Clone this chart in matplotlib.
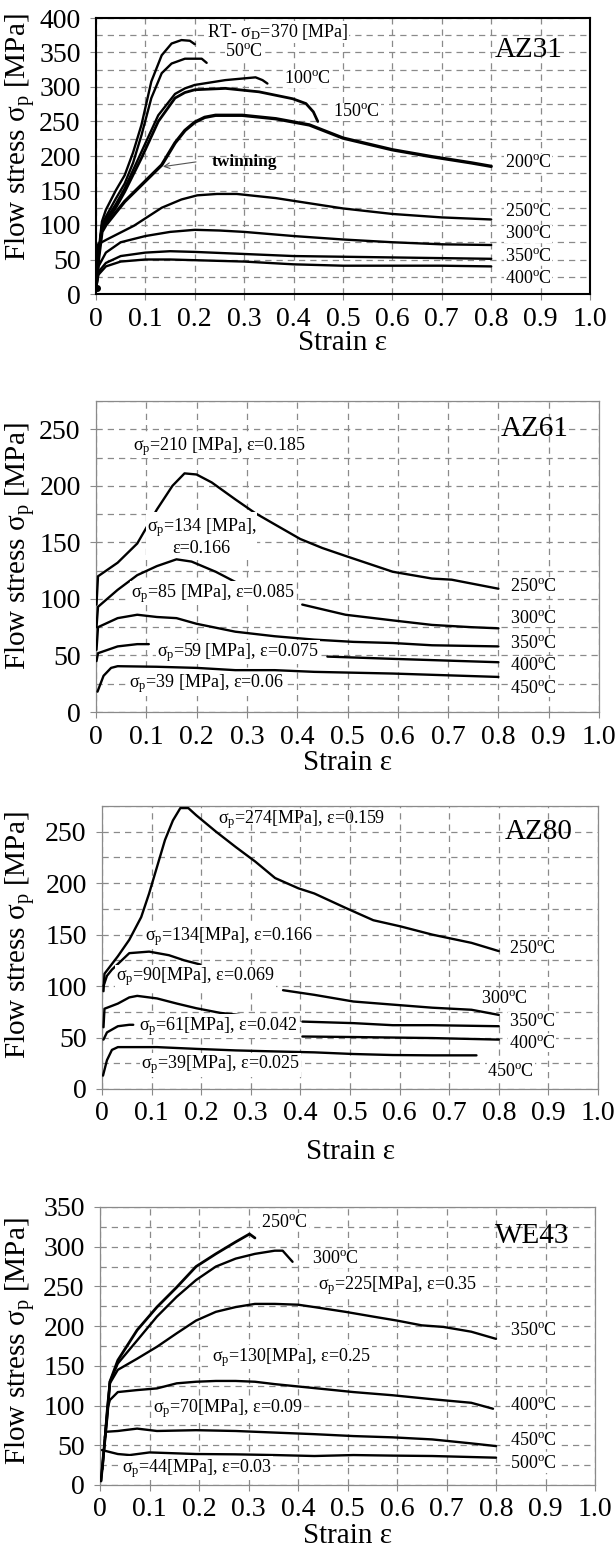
import numpy as np
import matplotlib
matplotlib.use("Agg")
import matplotlib.pyplot as plt
from matplotlib.ticker import MultipleLocator

plt.rcParams['font.family'] = ['Liberation Serif', 'DejaVu Serif']
plt.rcParams['mathtext.fontset'] = 'custom'
plt.rcParams['mathtext.rm'] = 'Liberation Serif'
plt.rcParams['mathtext.it'] = 'Liberation Serif:italic'
plt.rcParams['mathtext.bf'] = 'Liberation Serif:bold'

nan = np.nan

# ---------------- AZ31 ----------------
az31_rt_x = [0, 0.005, 0.012, 0.02, 0.04, 0.058, 0.075, 0.092, 0.112, 0.133, 0.153, 0.173, 0.19, 0.2]
az31_rt_y = [8, 60, 105, 122, 150, 172, 205, 245, 308, 346, 363, 368, 367, 362]
az31_50_x = [0, 0.005, 0.012, 0.02, 0.04, 0.058, 0.075, 0.092, 0.112, 0.133, 0.153, 0.18, 0.214, 0.224]
az31_50_y = [8, 55, 100, 112, 138, 160, 190, 230, 284, 320, 334, 341, 341, 335]
az31_100_x = [0, 0.005, 0.012, 0.02, 0.04, 0.058, 0.092, 0.126, 0.16, 0.18, 0.2, 0.262, 0.323, 0.337, 0.347]
az31_100_y = [8, 55, 98, 108, 130, 153, 206, 259, 290, 298, 303, 310, 314, 310, 305]
az31_150_x = [0, 0.005, 0.012, 0.02, 0.04, 0.058, 0.092, 0.126, 0.16, 0.18, 0.2, 0.262, 0.33, 0.398, 0.425, 0.44, 0.449]
az31_150_y = [8, 55, 95, 104, 125, 148, 197, 250, 284, 292, 296, 298, 293, 283, 276, 264, 250]
az31_200_x = [0, 0.005, 0.012, 0.02, 0.04, 0.058, 0.092, 0.133, 0.16, 0.18, 0.2, 0.22, 0.242, 0.296, 0.364, 0.432, 0.5, 0.6, 0.68, 0.76, 0.8]
az31_200_y = [8, 50, 90, 100, 118, 134, 158, 187, 219, 237, 249, 256, 259, 259, 254, 245, 226, 209, 199, 190, 185]
az31_250_x = [0, 0.004, 0.022, 0.077, 0.133, 0.173, 0.205, 0.245, 0.285, 0.364, 0.4, 0.5, 0.6, 0.7, 0.8]
az31_250_y = [8, 72, 79, 99, 125, 137, 143, 145, 145, 139, 135, 124, 116, 111, 108]
az31_300_x = [0, 0.005, 0.02, 0.05, 0.1, 0.15, 0.2, 0.25, 0.3, 0.4, 0.5, 0.6, 0.7, 0.8]
az31_300_y = [8, 40, 60, 75, 84, 90, 93, 92, 90, 84, 79, 75, 72, 71]
az31_350_x = [0, 0.005, 0.02, 0.05, 0.1, 0.15, 0.2, 0.3, 0.4, 0.5, 0.6, 0.7, 0.8]
az31_350_y = [8, 32, 45, 55, 60, 62, 61, 58, 55, 54, 53, 52, 51]
az31_400_x = [0, 0.005, 0.02, 0.05, 0.1, 0.15, 0.2, 0.3, 0.4, 0.45, 0.5, 0.6, 0.7, 0.8]
az31_400_y = [8, 28, 40, 47, 50, 50, 49, 47, 43, 42, 41, 41, 41, 40]

# ---------------- AZ61 ----------------
az61_250_x = [0.001, 0.004, 0.043, 0.082, 0.121, 0.152, 0.176, 0.2, 0.23, 0.277, 0.316, 0.355, 0.406, 0.45, 0.496, 0.59, 0.668, 0.707, 0.8]
az61_250_y = [95, 120, 132, 149, 179, 200, 211, 210, 203, 188, 176, 166, 153, 145, 138, 124, 118, 117, 109]
az61_300_x = [0.001, 0.004, 0.043, 0.082, 0.121, 0.16, 0.19, 0.238, 0.277, 0.28, 0.41, 0.496, 0.59, 0.668, 0.746, 0.8]
az61_300_y = [75, 93, 108, 121, 129, 135, 133, 124, 115, nan, 95, 86, 81, 77, 75, 74]
az61_350_x = [0.001, 0.004, 0.043, 0.082, 0.121, 0.16, 0.2, 0.277, 0.355, 0.434, 0.512, 0.59, 0.668, 0.8]
az61_350_y = [55, 75, 83, 86, 84, 83, 78, 71, 67, 64, 62, 61, 59, 58]
az61_400_x = [0.001, 0.004, 0.043, 0.082, 0.105, 0.11, 0.46, 0.59, 0.8]
az61_400_y = [45, 52, 58, 60, 60, nan, 49, 47, 44]
az61_450_x = [0.003, 0.015, 0.03, 0.043, 0.121, 0.2, 0.277, 0.355, 0.434, 0.59, 0.8]
az61_450_y = [18, 32, 39, 40.5, 40, 39, 37, 37, 35.5, 34, 31]

# ---------------- AZ80 ----------------
az80_250_x = [0.003, 0.005, 0.032, 0.055, 0.079, 0.095, 0.111, 0.127, 0.143, 0.158, 0.174, 0.19, 0.23, 0.27, 0.309, 0.349, 0.396, 0.428, 0.491, 0.547, 0.602, 0.666, 0.745, 0.8]
az80_250_y = [95, 112, 129, 145, 167, 190, 216, 242, 261, 273, 273, 266, 250, 235, 221, 205, 195, 190, 176, 164, 158, 150, 142, 134]
az80_300_x = [0.003, 0.01, 0.02, 0.055, 0.095, 0.135, 0.166, 0.198, 0.2, 0.365, 0.428, 0.507, 0.586, 0.666, 0.745, 0.8]
az80_300_y = [100, 110, 116, 132, 133.5, 130, 125, 121, nan, 96, 91.5, 85, 82, 79, 77, 72]
az80_350_x = [0.003, 0.005, 0.032, 0.055, 0.071, 0.111, 0.151, 0.19, 0.238, 0.293, 0.3, 0.404, 0.507, 0.586, 0.666, 0.8]
az80_350_y = [60, 78, 83, 89, 90.5, 88, 83, 78.5, 74, 71, nan, 65.5, 64, 62, 62, 61]
az80_400_x = [0.003, 0.01, 0.032, 0.055, 0.063, 0.07, 0.404, 0.507, 0.666, 0.8]
az80_400_y = [48, 55, 61, 62.4, 62.4, nan, 51, 50.5, 49.5, 48]
az80_450_x = [0.002, 0.01, 0.02, 0.032, 0.111, 0.19, 0.27, 0.349, 0.428, 0.507, 0.586, 0.666, 0.755]
az80_450_y = [13, 28, 38, 40.7, 40.7, 39, 37.5, 36.5, 35.6, 34, 33, 32.7, 32.7]

# ---------------- WE43 ----------------
we43_250_x = [0.002, 0.015, 0.02, 0.036, 0.075, 0.115, 0.155, 0.194, 0.234, 0.274, 0.302, 0.313]
we43_250_y = [5, 90, 130, 157, 195, 224, 249, 275, 291, 306, 316, 311]
we43_300_x = [0.002, 0.015, 0.02, 0.036, 0.075, 0.115, 0.155, 0.194, 0.234, 0.274, 0.313, 0.353, 0.369, 0.389]
we43_300_y = [5, 90, 130, 153, 182, 212, 237, 258, 275, 285, 291, 295, 295, 281]
we43_350_x = [0.01, 0.015, 0.02, 0.036, 0.075, 0.115, 0.155, 0.194, 0.234, 0.274, 0.313, 0.353, 0.4, 0.433, 0.496, 0.552, 0.6, 0.65, 0.694, 0.75, 0.8]
we43_350_y = [60, 100, 128, 145, 159, 174, 191, 207, 218, 224, 228, 228, 227, 224, 218, 212, 207, 201, 199, 193, 184]
we43_400_x = [0.01, 0.015, 0.02, 0.036, 0.075, 0.115, 0.155, 0.194, 0.234, 0.274, 0.313, 0.353, 0.433, 0.512, 0.591, 0.671, 0.75, 0.794]
we43_400_y = [60, 96, 107, 117, 119.5, 121.6, 128, 130, 131, 131, 130, 127, 122, 117, 113, 108, 103.5, 96]
we43_450_x = [0.005, 0.01, 0.012, 0.036, 0.075, 0.115, 0.194, 0.274, 0.353, 0.433, 0.512, 0.591, 0.671, 0.75, 0.8]
we43_450_y = [20, 60, 67, 68, 71, 68, 69, 68, 66, 64, 61.6, 60, 57.4, 52.4, 49]
we43_500_x = [0.004, 0.036, 0.06, 0.1, 0.115, 0.194, 0.274, 0.353, 0.433, 0.512, 0.591, 0.671, 0.8]
we43_500_y = [44, 39, 37.7, 41, 40.7, 39, 38.6, 37.7, 36.5, 37.7, 37, 36.5, 34.4]

xtick_vals = [0, 0.1, 0.2, 0.3, 0.4, 0.5, 0.6, 0.7, 0.8, 0.9, 1.0]
xtick_labels = ['0', '0.1', '0.2', '0.3', '0.4', '0.5', '0.6', '0.7', '0.8', '0.9', '1.0']

W, H = 616, 1555
fig = plt.figure(figsize=(W / 100, H / 100), dpi=100)


def rect(l, r, t, b):
    return [l / W, 1 - b / H, (r - l) / W, (b - t) / H]


GRID = '#8a8a8a'
SP = lambda s: 'σ$_\\mathregular{p}$' + s
DEG = lambda t: t + '$^\\mathregular{o}$C'
ANN = 13


def setup(ax, ymax, ystep, box, label_y, xlabel_off, black_frame=False):
    l, r, t, b = box
    ax.set_xlim(0, 1.0)
    ax.set_ylim(0, ymax)
    ax.set_xticks(xtick_vals)
    ax.set_xticklabels(xtick_labels)
    ax.yaxis.set_major_locator(MultipleLocator(ystep))
    ax.yaxis.set_minor_locator(MultipleLocator(25))
    ax.tick_params(axis='both', which='major', labelsize=20, length=4, width=0.8, color=GRID)
    ax.tick_params(axis='x', pad=5)
    ax.tick_params(axis='y', pad=7)
    ax.tick_params(axis='y', which='minor', length=0)
    ax.grid(True, which='both', axis='y', color=GRID, linestyle=(0, (5, 4)), linewidth=0.9)
    ax.grid(True, which='major', axis='x', color=GRID, linestyle=(0, (5, 4)), linewidth=0.9)
    ax.set_axisbelow(True)
    for s in ax.spines.values():
        s.set_color(GRID)
        s.set_linewidth(0.9)
    if black_frame:
        for s in ax.spines.values():
            s.set_color('black')
            s.set_linewidth(1.5)
    ax.set_xlabel('Strain ε', fontsize=21)
    ax.set_ylabel('Flow stress σ$_\\mathregular{p}$ [MPa]', fontsize=21)
    hpx = b - t
    wpx = r - l
    ax.xaxis.set_label_coords(0.5, -xlabel_off / hpx)
    ax.yaxis.set_label_coords((37 - l) / wpx, (b - label_y) / hpx)


def curve(ax, xs, ys, lw=1.7):
    ax.plot(xs, ys, color='black', lw=lw, solid_capstyle='round', solid_joinstyle='round', zorder=3)


def txt(ax, x, y, s, size=ANN, ha='left', bg=True, **kw):
    bb = dict(facecolor='white', edgecolor='none', pad=0.5) if bg else None
    ax.text(x, y, s, fontsize=size, ha=ha, va='center', zorder=5, bbox=bb, **kw)


# ---------- Panel 1: AZ31 ----------
b1 = (96, 590, 18, 294)
ax1 = fig.add_axes(rect(*b1))
setup(ax1, 400, 50, b1, 137, 36, black_frame=True)
curve(ax1, az31_rt_x, az31_rt_y)
curve(ax1, az31_50_x, az31_50_y)
curve(ax1, az31_100_x, az31_100_y)
curve(ax1, az31_150_x, az31_150_y, lw=2.0)
curve(ax1, az31_200_x, az31_200_y, lw=2.4)
curve(ax1, az31_250_x, az31_250_y)
curve(ax1, az31_300_x, az31_300_y)
curve(ax1, az31_350_x, az31_350_y)
curve(ax1, az31_400_x, az31_400_y)
ax1.plot([0.003], [8], 'o', color='black', ms=4, zorder=4)
txt(ax1, 0.225, 380, 'RT- σ$_\\mathregular{D}$=370 [MPa]', size=13)
txt(ax1, 0.262, 351, DEG('50'))
txt(ax1, 0.38, 312, DEG('100'))
txt(ax1, 0.48, 264, DEG('150'))
for yy, tt in [(190, '200'), (120, '250'), (87, '300'), (55, '350'), (23, '400')]:
    txt(ax1, 0.827, yy, DEG(tt))
ax1.text(0.807, 353, 'AZ31', fontsize=21, ha='left', va='center', zorder=5)
ax1.annotate('', xy=(0.13, 184), xytext=(0.208, 192),
             arrowprops=dict(arrowstyle='->', color='#555555', lw=0.8), zorder=5)
ax1.text(0.3, 191, 'twinning', fontsize=12.5, fontweight='bold', ha='center', va='center', zorder=5)

# ---------- Panel 2: AZ61 ----------
b2 = (96, 599, 401, 712)
ax2 = fig.add_axes(rect(*b2))
setup(ax2, 275, 50, b2, 546, 38)
curve(ax2, az61_250_x, az61_250_y)
curve(ax2, az61_300_x, az61_300_y)
curve(ax2, az61_350_x, az61_350_y)
curve(ax2, az61_400_x, az61_400_y)
curve(ax2, az61_450_x, az61_450_y)
txt(ax2, 0.074, 235, SP('=210 [MPa], ε=0.185'))
ax2.text(0.21, 155, SP('=134 [MPa],') + '\nε=0.166', fontsize=ANN, ha='center', va='center',
         multialignment='center', linespacing=1.1, zorder=5,
         bbox=dict(facecolor='white', edgecolor='none', pad=0.5))
txt(ax2, 0.07, 105, SP('=85 [MPa], ε=0.085'))
txt(ax2, 0.121, 53, SP('=59 [MPa], ε=0.075'))
txt(ax2, 0.066, 25, SP('=39 [MPa], ε=0.06'))
for yy, tt in [(111, '250'), (83, '300'), (61, '350'), (41, '400'), (21, '450')]:
    txt(ax2, 0.824, yy, DEG(tt))
ax2.text(0.805, 250, 'AZ61', fontsize=21, ha='left', va='center', zorder=5)

# ---------- Panel 3: AZ80 ----------
b3 = (102, 598, 806, 1089)
ax3 = fig.add_axes(rect(*b3))
setup(ax3, 275, 50, b3, 935, 50)
curve(ax3, az80_250_x, az80_250_y)
curve(ax3, az80_300_x, az80_300_y)
curve(ax3, az80_350_x, az80_350_y)
curve(ax3, az80_400_x, az80_400_y)
curve(ax3, az80_450_x, az80_450_y)
txt(ax3, 0.234, 262, SP('=274[MPa], ε=0.159'), bg=False)
txt(ax3, 0.087, 148, SP('=134[MPa], ε=0.166'))
txt(ax3, 0.028, 109, SP('=90[MPa], ε=0.069'))
txt(ax3, 0.075, 61, SP('=61[MPa], ε=0.042'))
txt(ax3, 0.079, 23.6, SP('=39[MPa], ε=0.025'))
txt(ax3, 0.82, 137, DEG('250'))
txt(ax3, 0.765, 88, DEG('300'))
txt(ax3, 0.82, 65.6, DEG('350'))
txt(ax3, 0.82, 44.6, DEG('400'))
txt(ax3, 0.777, 17, DEG('450'))
ax3.text(0.812, 250, 'AZ80', fontsize=21, ha='left', va='center', zorder=5)

# ---------- Panel 4: WE43 ----------
b4 = (100, 595, 1207, 1485)
ax4 = fig.add_axes(rect(*b4))
setup(ax4, 350, 50, b4, 1341, 38)
curve(ax4, we43_250_x, we43_250_y, lw=2.0)
curve(ax4, we43_300_x, we43_300_y)
curve(ax4, we43_350_x, we43_350_y)
curve(ax4, we43_400_x, we43_400_y)
curve(ax4, we43_450_x, we43_450_y)
curve(ax4, we43_500_x, we43_500_y)
txt(ax4, 0.325, 331, DEG('250'))
txt(ax4, 0.429, 285, DEG('300'))
txt(ax4, 0.44, 251.5, SP('=225[MPa], ε=0.35'))
txt(ax4, 0.829, 195, DEG('350'))
txt(ax4, 0.226, 161, SP('=130[MPa], ε=0.25'))
txt(ax4, 0.829, 100.6, DEG('400'))
txt(ax4, 0.107, 96.4, SP('=70[MPa], ε=0.09'))
txt(ax4, 0.829, 56.6, DEG('450'))
txt(ax4, 0.829, 27, DEG('500'))
txt(ax4, 0.044, 21, SP('=44[MPa], ε=0.03'))
ax4.text(0.798, 314, 'WE43', fontsize=21, ha='left', va='center', zorder=5)

fig.savefig('out.png', dpi=100, facecolor='white')
